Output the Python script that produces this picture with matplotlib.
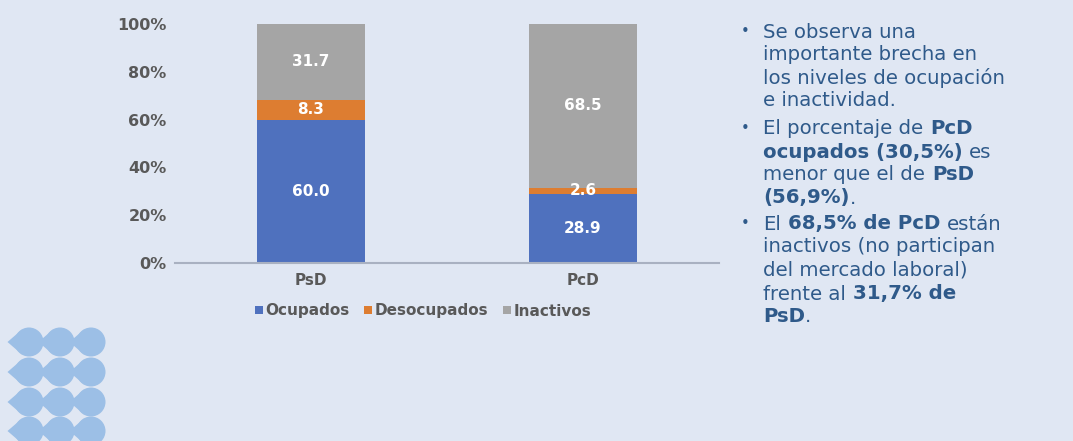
import matplotlib
matplotlib.use("Agg")
import matplotlib.pyplot as plt
from matplotlib.patches import Circle, Polygon
import numpy as np

categories = ["PsD", "PcD"]
series_names = ["Ocupados", "Desocupados", "Inactivos"]
ocupados = [60.0, 28.9]
desocupados = [8.3, 2.6]
inactivos = [31.7, 68.5]
yticks = [0, 20, 40, 60, 80, 100]
ytick_labels = ["0%", "20%", "40%", "60%", "80%", "100%"]

colors = ["#4F71BE", "#DD7D31", "#A5A5A5"]
bg = "#E0E7F3"
label_gray = "#595959"
text_blue = "#2F5A8A"

W, H = 1073, 441
fig = plt.figure(figsize=(W / 100, H / 100), dpi=100, facecolor=bg)
ax = fig.add_axes([175 / W, (H - 263) / H, 544 / W, 239 / H])
ax.set_facecolor(bg)

x = np.arange(len(categories))
bottom = np.zeros(len(categories))
for name, vals, c in zip(series_names, [ocupados, desocupados, inactivos], colors):
    ax.bar(x, vals, width=0.4, bottom=bottom, color=c, label=name, zorder=2)
    for xi, b, v in zip(x, bottom, vals):
        ax.text(xi, b + v / 2, f"{v:.1f}", ha="center", va="center",
                color="white", fontsize=11, fontweight="bold", zorder=3)
    bottom += np.array(vals)

ax.set_xlim(-0.5, 1.5)
ax.set_ylim(0, 100)
ax.set_yticks(yticks)
ax.set_yticklabels(ytick_labels)
ax.set_xticks(x)
ax.set_xticklabels(categories)
for lab in ax.get_yticklabels():
    lab.set_fontweight("bold")
    lab.set_color(label_gray)
    lab.set_fontsize(11.5)
for lab in ax.get_xticklabels():
    lab.set_fontweight("bold")
    lab.set_color(label_gray)
    lab.set_fontsize(11)
ax.tick_params(axis="y", length=0, pad=6)
ax.tick_params(axis="x", length=0, pad=7)
for s in ["top", "right", "left"]:
    ax.spines[s].set_visible(False)
ax.spines["bottom"].set_color("#A9B1C1")
ax.spines["bottom"].set_linewidth(1.5)

leg = ax.legend(loc="center", bbox_to_anchor=(423 / W, (H - 311) / H),
                bbox_transform=fig.transFigure, ncol=3, frameon=False,
                handlelength=0.5, handleheight=0.5, handletextpad=0.15,
                columnspacing=1.0, prop={"weight": "bold", "size": 11})
for t in leg.get_texts():
    t.set_color(label_gray)

# Right-side text with mixed bold/regular
renderer = fig.canvas.get_renderer()
fs = 14.2

def text_width(s, weight):
    t = fig.text(0, 0, s, fontsize=fs, fontweight=weight)
    w = t.get_window_extent(renderer).width
    t.remove()
    return w

space_w = {w: text_width("x x", w) - text_width("xx", w) for w in ("normal", "bold")}

lines = [
    (True, [("Se observa una", "normal")]),
    (False, [("importante brecha en", "normal")]),
    (False, [("los niveles de ocupación", "normal")]),
    (False, [("e inactividad.", "normal")]),
    (True, [("El porcentaje de", "normal"), ("PcD", "bold")]),
    (False, [("ocupados (30,5%)", "bold"), ("es", "normal")]),
    (False, [("menor que el de", "normal"), ("PsD", "bold")]),
    (False, [("(56,9%)", "bold"), (".", "normal")]),
    (True, [("El", "normal"), ("68,5% de PcD", "bold"), ("están", "normal")]),
    (False, [("inactivos (no participan", "normal")]),
    (False, [("del mercado laboral)", "normal")]),
    (False, [("frente al", "normal"), ("31,7% de", "bold")]),
    (False, [("PsD", "bold"), (".", "normal")]),
]
y_centers = [30, 53, 76, 98, 127, 150, 173, 196, 222, 245, 268, 292, 315]
x0 = 763
for (bullet, segs), yc in zip(lines, y_centers):
    yf = (H - yc) / H
    if bullet:
        fig.text(741 / W, yf, "•", fontsize=fs * 0.75, color=text_blue,
                 va="center_baseline")
    xp = x0
    for i, (s, wgt) in enumerate(segs):
        if i > 0 and s != ".":
            xp += space_w[wgt]
        t = fig.text(xp / W, yf, s, fontsize=fs, fontweight=wgt, color=text_blue,
                     va="center_baseline")
        xp += t.get_window_extent(renderer).width

# Decorative teardrops bottom-left
deco = fig.add_axes([0, 0, 1, 1], facecolor="none")
deco.set_xlim(0, W)
deco.set_ylim(H, 0)
deco.axis("off")
drop_color = "#9CBFE6"
rows = [342, 372, 402, 431]
cols = [29, 60, 91]
r = 14.5
for yc in rows:
    for xc in cols:
        deco.add_patch(Circle((xc, yc), r, color=drop_color, lw=0))
        deco.add_patch(Polygon([(xc - r - 7, yc), (xc - 7, yc - r + 2), (xc - 7, yc + r - 2)],
                               closed=True, color=drop_color, lw=0))

fig.savefig("out.png", dpi=100, facecolor=bg)
